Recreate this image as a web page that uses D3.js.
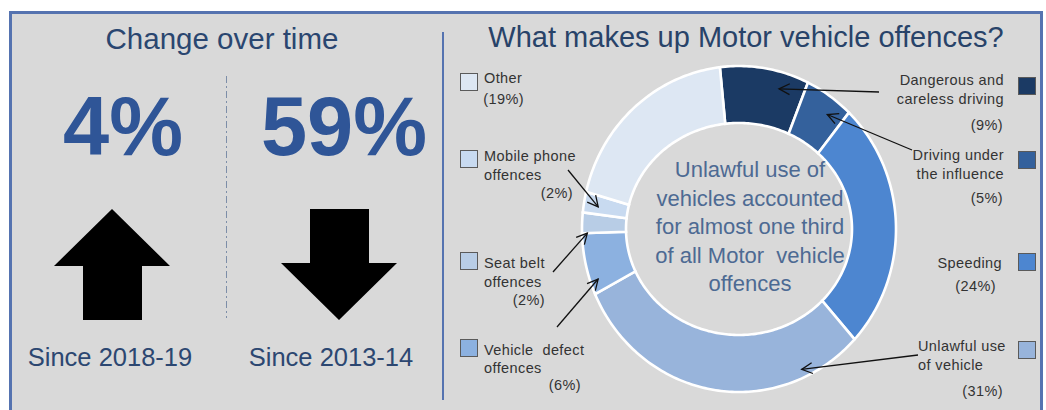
<!DOCTYPE html>
<html>
<head>
<meta charset="utf-8">
<script src="https://cdn.jsdelivr.net/npm/d3@7"></script>
<style>
  html, body { margin: 0; padding: 0; background: #ffffff; }
  svg { display: block; }
  text { font-family: "Liberation Sans", Arial, sans-serif; }
</style>
</head>
<body>
<svg id="chart" width="1046" height="410"></svg>
<script>
// ---- data -------------------------------------------------------------
const categories = [
  "Dangerous and careless driving",
  "Driving under the influence",
  "Speeding",
  "Unlawful use of vehicle",
  "Vehicle defect offences",
  "Seat belt offences",
  "Mobile phone offences",
  "Other"
];
const shares = [9, 5, 24, 31, 6, 2, 2, 19];
const sliceColours = ["#1b3a64", "#34619c", "#4d86d0", "#98b4db", "#8cb1e0", "#b8cde6", "#c8daf0", "#dde7f3"];
const labelLines = [
  ["Dangerous and", "careless driving"],
  ["Driving under", "the influence"],
  ["Speeding"],
  ["Unlawful use", "of vehicle"],
  ["Vehicle  defect", "offences"],
  ["Seat belt", "offences"],
  ["Mobile phone", "offences"],
  ["Other"]
];
const changeValues = [4, 59];
const changeDirections = ["up", "down"];
const changePeriods = ["Since 2018-19", "Since 2013-14"];
const centreNote = ["Unlawful use of", "vehicles accounted", "for almost one third", "of all Motor  vehicle", "offences"];

// ---- layout -----------------------------------------------------------
// ring is slightly elliptical: separate horizontal / vertical radii
const donut = { cx: 739, cy: 229, outer: [157, 163], inner: [113, 106], startDeg: -7 };

// legend / label placement per category (same order as categories)
const labelLayout = [
  { side: "right", sq: [1018, 77],  x: 1004, lines: [85, 104],  pct: [1003, 130] },
  { side: "right", sq: [1018, 151], x: 1004, lines: [160, 179], pct: [1003, 203] },
  { side: "right", sq: [1018, 253], x: 1002, lines: [268],      pct: [996, 291] },
  { side: "right", sq: [1018, 341], x: 918,  anchor: "start", lines: [351, 370], pct: [1003, 396] },
  { side: "left",  sq: [460, 339],  x: 484,  lines: [355, 373], pct: [581, 390] },
  { side: "left",  sq: [460, 252],  x: 484,  lines: [268, 287], pct: [545, 305] },
  { side: "left",  sq: [460, 150],  x: 484,  lines: [161, 180], pct: [573, 198] },
  { side: "left",  sq: [460, 73],   x: 484,  lines: [83],       pct: [524, 104] }
];

// leader arrows: start point near label; tip at fraction t of the slice angle
// and fraction rf of the way from inner to outer edge
const leaders = [
  { i: 0, from: [879, 92],  t: 0.70, rf: 0.70 },
  { i: 1, from: [912, 150], t: 0.65, rf: 0.69 },
  { i: 3, from: [918, 355], t: 0.20, rf: 0.85 },
  { i: 4, from: [557, 327], t: 0.20, rf: 0.82 },
  { i: 5, from: [553, 272], t: 0.00, rf: 0.88 },
  { i: 6, from: [568, 170], t: 0.40, rf: 0.67 }
];

const svg = d3.select("#chart");

// ---- panel background and frame ---------------------------------------
svg.append("rect")
  .attr("x", 10.5).attr("y", 12.5)
  .attr("width", 1031).attr("height", 420)
  .attr("fill", "#d9d9d9")
  .attr("stroke", "#5573b0")
  .attr("stroke-width", 3);

// divider between the two halves
svg.append("line")
  .attr("x1", 443).attr("x2", 443).attr("y1", 32).attr("y2", 400)
  .attr("stroke", "#5573b0").attr("stroke-width", 2);

// ---- left half: change over time --------------------------------------
svg.append("text")
  .attr("x", 222).attr("y", 49)
  .attr("text-anchor", "middle")
  .attr("font-size", 29.5)
  .attr("fill", "#2a4670")
  .text("Change over time");

svg.append("line")
  .attr("x1", 226.5).attr("x2", 226.5).attr("y1", 76).attr("y2", 318)
  .attr("stroke", "#7d8ea8").attr("stroke-width", 1)
  .attr("stroke-dasharray", "7,3,2,3");

const colX = d3.scaleOrdinal().domain(changePeriods).range([112, 339]);
const numberShift = [11, 5];
const periodShift = [-2, -8];

const changeGroup = svg.append("g");
changePeriods.forEach((p, k) => {
  const x = colX(p);
  changeGroup.append("text")
    .attr("x", x + numberShift[k]).attr("y", 155)
    .attr("text-anchor", "middle")
    .attr("font-size", 83).attr("font-weight", "bold")
    .attr("fill", "#2f5597")
    .text(changeValues[k] + "%");

  // block arrow: head 116 wide, 57 tall; shaft 59 wide; total 111 tall
  const pts = [[0, 0], [58, 57], [30, 57], [30, 111], [-29, 111], [-29, 57], [-58, 57]];
  const top = 209, flip = changeDirections[k] === "down";
  const poly = pts.map(([dx, dy]) => [x + dx, flip ? top + 111 - dy : top + dy]);
  changeGroup.append("path")
    .attr("d", d3.line()(poly) + "Z")
    .attr("fill", "#000000");

  changeGroup.append("text")
    .attr("x", x + periodShift[k]).attr("y", 366)
    .attr("text-anchor", "middle")
    .attr("font-size", 25.5)
    .attr("fill", "#2c4771")
    .text(p);
});

// ---- right half: composition donut ------------------------------------
svg.append("text")
  .attr("x", 746).attr("y", 47)
  .attr("text-anchor", "middle")
  .attr("font-size", 29)
  .attr("fill", "#284369")
  .text("What makes up Motor vehicle offences?");

const rad = d => d * Math.PI / 180;
const pie = d3.pie().sort(null).value(d => d)
  .startAngle(rad(donut.startDeg)).endAngle(rad(donut.startDeg + 360));
const arcs = pie(shares);

// point on the ring at angle a (clockwise from 12 o'clock), f = 0 inner .. 1 outer
function ringPoint(a, f) {
  const rx = donut.inner[0] + f * (donut.outer[0] - donut.inner[0]);
  const ry = donut.inner[1] + f * (donut.outer[1] - donut.inner[1]);
  return [donut.cx + rx * Math.sin(a), donut.cy - ry * Math.cos(a)];
}
function slicePath(d) {
  const n = Math.max(2, Math.ceil((d.endAngle - d.startAngle) / rad(1)));
  const angs = d3.range(n + 1).map(k => d.startAngle + (d.endAngle - d.startAngle) * k / n);
  const pts = angs.map(a => ringPoint(a, 1)).concat(angs.slice().reverse().map(a => ringPoint(a, 0)));
  return d3.line()(pts) + "Z";
}

svg.append("g").selectAll("path.slice")
  .data(arcs)
  .join("path")
  .attr("class", "slice")
  .attr("d", slicePath)
  .attr("fill", (d, i) => sliceColours[i])
  .attr("stroke", "#ffffff")
  .attr("stroke-width", 2.6)
  .attr("stroke-linejoin", "miter");

// centre note
const note = svg.append("text")
  .attr("text-anchor", "middle")
  .attr("font-family", "Lato, 'Open Sans', sans-serif")
  .attr("font-size", 22)
  .attr("fill", "#4d6a93");
centreNote.forEach((line, k) => {
  note.append("tspan")
    .attr("x", 750).attr("y", 177 + k * 28.5)
    .style("white-space", "pre")
    .text(line);
});

// legend squares and labels
const labels = svg.append("g").attr("font-size", 14.5).attr("fill", "#333333").style("letter-spacing", "0.4px");
categories.forEach((c, i) => {
  const L = labelLayout[i];
  labels.append("rect")
    .attr("x", L.sq[0] + 0.5).attr("y", L.sq[1] + 0.5)
    .attr("width", 17).attr("height", 17)
    .attr("fill", sliceColours[i])
    .attr("stroke", "#5a5a5a").attr("stroke-width", 1);
  const anchor = L.anchor || (L.side === "right" ? "end" : "start");
  labelLines[i].forEach((ln, k) => {
    labels.append("text")
      .attr("x", L.x).attr("y", L.lines[k])
      .attr("text-anchor", anchor)
      .style("white-space", "pre")
      .text(ln);
  });
  labels.append("text")
    .attr("x", L.pct[0]).attr("y", L.pct[1])
    .attr("text-anchor", "end")
    .text(`(${shares[i]}%)`);
});

// leader arrows pointing into the ring
const leaderGroup = svg.append("g")
  .attr("stroke", "#111111").attr("stroke-width", 1.3).attr("fill", "none");
leaders.forEach(ld => {
  const a = arcs[ld.i];
  const tip = ringPoint(a.startAngle + ld.t * (a.endAngle - a.startAngle), ld.rf);
  const [fx, fy] = ld.from;
  leaderGroup.append("line")
    .attr("x1", fx).attr("y1", fy).attr("x2", tip[0]).attr("y2", tip[1]);
  const dir = Math.atan2(fy - tip[1], fx - tip[0]);
  const len = 12, spread = rad(27);
  const head = [
    [tip[0] + len * Math.cos(dir - spread), tip[1] + len * Math.sin(dir - spread)],
    tip,
    [tip[0] + len * Math.cos(dir + spread), tip[1] + len * Math.sin(dir + spread)]
  ];
  leaderGroup.append("path").attr("d", d3.line()(head));
});
</script>
</body>
</html>
